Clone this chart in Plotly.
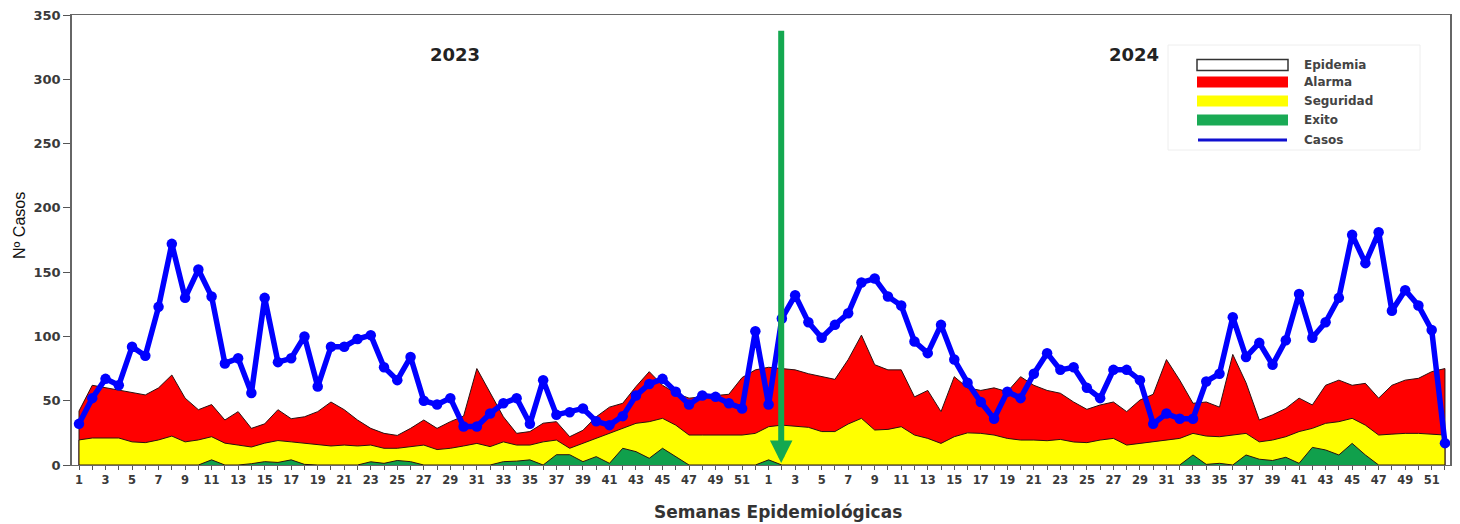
import plotly.graph_objects as go

# ---------------- data ----------------
weeks_2023 = list(range(1, 53))
weeks_2024 = list(range(1, 53))

casos_2023 = [32, 52, 67, 62, 92, 85, 123, 172, 130, 152, 131, 79, 83, 56, 130, 80, 83, 100, 61, 92,
              92, 98, 101, 76, 66, 84, 50, 47, 52, 30, 30, 40, 48, 52, 32, 66, 39, 41, 44, 34,
              31, 38, 54, 63, 67, 57, 47, 54, 53, 48, 44, 104]
casos_2024 = [47, 114, 132, 111, 99, 109, 118, 142, 145, 131, 124, 96, 87, 109, 82, 64, 49, 36, 57, 52,
              71, 87, 74, 76, 60, 52, 74, 74, 66, 32, 40, 36, 36, 65, 71, 115, 84, 95, 78, 97,
              133, 99, 111, 130, 179, 157, 181, 120, 136, 124, 105, 17]

alarma_2023 = [42, 62, 60, 58, 56, 54.5, 60, 70, 52, 43, 47, 35, 41.5, 28.5, 32, 43, 36, 37.5, 41.5, 49,
               43, 35, 28.5, 24.6, 23, 28.5, 35, 28.5, 33.7, 38, 75, 56, 37.5, 24.6, 26, 32.5, 33.7, 22, 27, 37.5,
               45, 48, 61, 72.6, 62, 55.8, 52, 53, 54, 55, 68, 74]
alarma_2024 = [76, 75, 74, 71, 69, 66.6, 82, 101, 78, 74, 74, 53, 58, 41.5, 68.7, 60, 58, 60, 57, 68.7,
               62, 58, 55.8, 49, 43.3, 46.7, 49, 41.5, 50.5, 55, 82, 66, 48, 49, 45, 86, 64, 35, 39, 44,
               52, 46.7, 62, 66, 62, 63.5, 52, 62, 66, 67.4, 72.6, 75]

seguridad_2023 = [19.5, 21, 21, 21, 18, 17.4, 19.5, 22.5, 18, 19.5, 22, 17, 15.5, 14, 17, 19, 18, 17, 15.5, 14.8,
                  15.5, 14.8, 15.5, 13, 13, 14, 15.5, 12, 13, 14.8, 16.8, 14.3, 18, 15.5, 15.5, 18, 19.4, 13, 16.8, 20.7,
                  24.6, 28.5, 32.4, 33.7, 36.3, 31, 23.3, 23.3, 23.3, 23.3, 23.3, 24.6]
seguridad_2024 = [29.8, 31, 30.3, 29.3, 26, 26, 31.9, 36.3, 27.2, 27.7, 29.8, 23.3, 20.7, 16.8, 22, 25, 24.6, 23.3, 20.7, 19.4,
                  19.4, 18.9, 19.9, 17.9, 17.4, 19.4, 20.7, 15.5, 16.8, 18, 19.4, 20.7, 24.6, 22.5, 22, 23.3, 24.6, 18, 19.4, 22,
                  26, 28.5, 32.4, 33.7, 36.3, 31, 23.3, 24, 24.6, 24.6, 24, 23.3]

exito_2023 = [0, 0, 0, 0, 0, 0, 0, 0, 0, 0, 4, 0, 0, 1, 2.6, 2, 4, 0.5, 0, 0,
              0, 0, 2.5, 1.3, 3.5, 2.6, 0, 0, 0, 0, 0, 0, 2.6, 3, 4, 0, 8, 8, 2.6, 6.5,
              1.3, 13, 10.4, 5.2, 13, 6.5, 0, 0, 0, 0, 0, 0]
exito_2024 = [4, 0, 0, 0, 0, 0, 0, 0, 0, 0, 0, 0, 0, 0, 0, 0, 0, 0, 0, 0,
              0, 0, 0, 0, 0, 0, 0, 0, 0, 0, 0, 0, 7.8, 0.5, 1.3, 0, 7.8, 4.5, 3.5, 6,
              1.3, 13.7, 11.7, 7.8, 16.8, 7.8, 0, 0, 0, 0, 0, 0]

y_ticks = [0, 50, 100, 150, 200, 250, 300, 350]
year_labels = ["2023", "2024"]
legend_names = ["Epidemia", "Alarma", "Seguridad", "Exito", "Casos"]

# ---------------- derived ----------------
casos = casos_2023 + casos_2024
alarma = alarma_2023 + alarma_2024
seguridad = seguridad_2023 + seguridad_2024
exito = exito_2023 + exito_2024
week_labels = weeks_2023 + weeks_2024
idx = list(range(len(casos)))
tick_text = [str(w) if w % 2 == 1 else "" for w in week_labels]

OFF = 8                       # page body margin
W, H = 1460 - OFF, 524 - OFF
L, R, T, B = 72 - OFF, 10, 15 - OFF, 59
PW, PH = W - L - R, H - T - B


def pxx(p):                   # page pixel -> paper x
    return (p - OFF - L) / PW


def pxy(p):                   # page pixel -> paper y
    return (H - B - (p - OFF)) / PH


RED = "#FF0000"
YEL = "#FFFF00"
GRN = "#10A04C"
BLUE = "#0000FF"
EDGE = "#2a1010"


def area(vals, color, name):
    xs = [idx[0]] + idx + [idx[-1]]
    ys = [0] + list(vals) + [0]
    return go.Scatter(x=xs, y=ys, fill="toself", fillcolor=color, mode="lines",
                      line=dict(color=EDGE, width=1), name=name, showlegend=False,
                      hoverinfo="skip")


fig = go.Figure()
fig.add_trace(area(alarma, RED, "Alarma"))
fig.add_trace(area(seguridad, YEL, "Seguridad"))
fig.add_trace(area(exito, GRN, "Exito"))
fig.add_trace(go.Scatter(x=idx, y=casos, mode="lines+markers", name="Casos",
                         line=dict(color=BLUE, width=5.5),
                         marker=dict(color=BLUE, size=10.5), showlegend=False))

FONT = "DejaVu Sans, Verdana, sans-serif"


def txt(xp, yp, text, size, color="#222", family=FONT, **kw):
    d = dict(x=pxx(xp), y=pxy(yp), xref="paper", yref="paper", text=text, showarrow=False,
             xanchor="center", yanchor="middle", font=dict(family=family, size=size, color=color))
    d.update(kw)
    return d


annotations = [
    # green arrow
    dict(x=52.95, y=1.5, ax=52.95, ay=339, xref="x", yref="y", axref="x", ayref="y",
         showarrow=True, arrowhead=2, arrowsize=0.75, arrowwidth=6, arrowcolor="#14A850", text=""),
    txt(455, 54, "<b>%s</b>" % year_labels[0], 18),
    txt(1134, 54, "<b>%s</b>" % year_labels[1], 18),
    txt(778, 512, "<b>Semanas Epidemiológicas</b>", 17, color="#333"),
    txt(19, 226, "Nº Casos", 16, color="#111",
        family="Liberation Sans Narrow, Liberation Sans, Arial", textangle=-90),
]

shapes = [
    dict(type="rect", xref="paper", yref="paper", x0=pxx(1168), x1=pxx(1420), y0=pxy(150), y1=pxy(45),
         fillcolor="white", line=dict(color="#eeeeee", width=1), layer="above"),
]

legend_rows = [65, 82, 101, 120, 140]
legend_fill = ["white", RED, YEL, "#1AAA55", None]
for name, yc, fc in zip(legend_names, legend_rows, legend_fill):
    if fc is None:
        shapes.append(dict(type="line", xref="paper", yref="paper", x0=pxx(1198), x1=pxx(1287),
                           y0=pxy(yc), y1=pxy(yc), line=dict(color="#1010D0", width=3), layer="above"))
    else:
        shapes.append(dict(type="rect", xref="paper", yref="paper", x0=pxx(1197), x1=pxx(1288),
                           y0=pxy(yc + 5.5), y1=pxy(yc - 5.5), fillcolor=fc,
                           line=dict(color="#333" if fc == "white" else fc, width=1.5 if fc == "white" else 0),
                           layer="above"))
    annotations.append(txt(1302, yc, "<b>%s</b>" % name, 12, color="#444", xanchor="left"))

fig.update_layout(
    width=W, height=H,
    margin=dict(l=L, r=R, t=T, b=B, pad=0, autoexpand=False),
    paper_bgcolor="white", plot_bgcolor="white",
    showlegend=False,
    annotations=annotations,
    shapes=shapes,
    xaxis=dict(range=[-0.528, 103.38], tickmode="array", tickvals=idx, ticktext=tick_text,
               ticks="outside", ticklen=4, tickcolor="#555", tickwidth=1, automargin=False,
               showline=True, linecolor="#666", linewidth=1, mirror=True,
               showgrid=False, zeroline=False, tickangle=0, ticklabeloverflow="allow",
               tickfont=dict(family=FONT, size=11.5, color="#3a3a3a", weight="bold")),
    yaxis=dict(range=[0, 350], tickmode="array", tickvals=y_ticks,
               ticks="outside", ticklen=7, tickcolor="#555", tickwidth=1, automargin=False,
               showline=True, linecolor="#666", linewidth=1.5, mirror=True,
               showgrid=False, zeroline=False, ticklabeloverflow="allow",
               tickfont=dict(family=FONT, size=13, color="#3a3a3a", weight="bold")),
)

fig.write_html("out.html")
